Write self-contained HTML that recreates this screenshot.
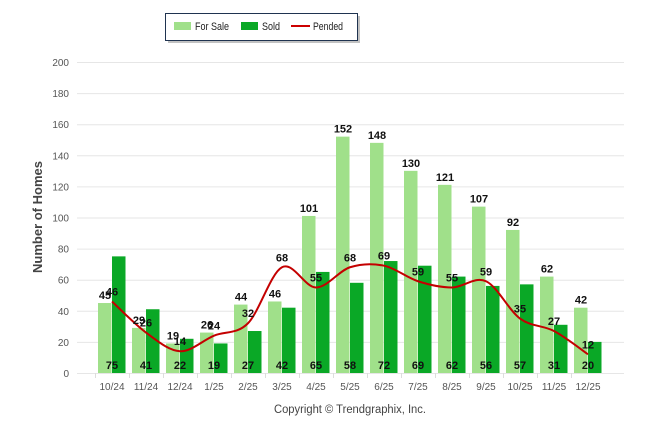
<!DOCTYPE html>
<html><head><meta charset="utf-8"><style>
body{margin:0;background:#fff;font-family:"Liberation Sans",sans-serif}
svg text{font-family:"Liberation Sans",sans-serif}
</style></head><body>
<svg width="646" height="434" xmlns="http://www.w3.org/2000/svg">
<g>
<rect x="168" y="16" width="192" height="27" fill="#9a9a9a" opacity="0.6"/>
<rect x="165.5" y="13.5" width="192" height="27" fill="#fff" stroke="#1f3350" stroke-width="1"/>
<rect x="174" y="22" width="17" height="8" fill="#a0e08a"/>
<text x="195" y="30" font-size="11" textLength="34" lengthAdjust="spacingAndGlyphs" fill="#222">For Sale</text>
<rect x="241" y="22" width="17" height="8" fill="#0aa826"/>
<text x="262" y="30" font-size="11" textLength="18" lengthAdjust="spacingAndGlyphs" fill="#222">Sold</text>
<line x1="291" y1="26" x2="310" y2="26" stroke="#cc0000" stroke-width="2"/>
<text x="313" y="30" font-size="11" textLength="30" lengthAdjust="spacingAndGlyphs" fill="#222">Pended</text>
</g>
<g id="grid"></g>
<g id="bars"></g>
<g id="line"></g>
<g id="labels"></g>
<text transform="translate(42,217) rotate(-90)" text-anchor="middle" font-size="13" font-weight="bold" fill="#444">Number of Homes</text>
<text x="274" y="413" font-size="11.5" textLength="152" lengthAdjust="spacingAndGlyphs" fill="#444">Copyright © Trendgraphix, Inc.</text>
</svg>
<script>
const categories=["10/24","11/24","12/24","1/25","2/25","3/25","4/25","5/25","6/25","7/25","8/25","9/25","10/25","11/25","12/25"];
const forSale=[45,29,19,26,44,46,101,152,148,130,121,107,92,62,42];
const sold=[75,41,22,19,27,42,65,58,72,69,62,56,57,31,20];
const pended=[46,26,14,24,32,68,55,68,69,59,55,59,35,27,12];
const yTicks=[0,20,40,60,80,100,120,140,160,180,200];
const NS="http://www.w3.org/2000/svg";
const y=v=>373-v*311/200;
const xc=i=>112+34*i;
function mk(tag,attrs,parent,text){const e=document.createElementNS(NS,tag);for(const k in attrs)e.setAttribute(k,attrs[k]);if(text!==undefined)e.textContent=text;parent.appendChild(e);return e;}
const grid=document.getElementById('grid'),bars=document.getElementById('bars'),lineG=document.getElementById('line'),labels=document.getElementById('labels');
yTicks.forEach(t=>{
 const l=mk('line',{x1:77,x2:624,y1:y(t)+0.5,y2:y(t)+0.5,stroke:'#e6e6e6','stroke-width':1},grid);
 
 
 const tx=mk('text',{x:69,y:y(t)+4,'text-anchor':'end','font-size':10,fill:'#555'},grid,t);
 
 
});
categories.forEach((c,i)=>{
 const t=mk('text',{x:xc(i),y:390,'text-anchor':'middle','font-size':10,fill:'#555'},grid,c);
 
 
 const tk=mk('line',{x1:xc(i)-17+0.5,x2:xc(i)-17+0.5,y1:373,y2:378,stroke:'#ddd'},grid);
 
 
 const b1=mk('rect',{x:xc(i)-14,y:y(forSale[i]),width:13.5,height:373-y(forSale[i]),fill:'#a0e08a'},bars);
 
 
 const b2=mk('rect',{x:xc(i),y:y(sold[i]),width:13.5,height:373-y(sold[i]),fill:'#0aa826'},bars);
 
 
});
const pts=pended.map((v,i)=>[xc(i),y(v)]);
let d=`M${pts[0][0]},${pts[0][1]}`;
for(let i=0;i<pts.length-1;i++){const p0=pts[i-1]||pts[i],p1=pts[i],p2=pts[i+1],p3=pts[i+2]||p2;
 d+=` C${p1[0]+(p2[0]-p0[0])/6},${p1[1]+(p2[1]-p0[1])/6} ${p2[0]-(p3[0]-p1[0])/6},${p2[1]-(p3[1]-p1[1])/6} ${p2[0]},${p2[1]}`;}
const pl=mk('path',{d:d,fill:'none',stroke:'#c40000','stroke-width':2},lineG);


categories.forEach((c,i)=>{
 const a=mk('text',{x:xc(i)-7,y:y(forSale[i])-4,'text-anchor':'middle','font-size':11,'font-weight':'bold',fill:'#111'},labels,forSale[i]);
 
 
 const b=mk('text',{x:xc(i),y:369,'text-anchor':'middle','font-size':11,'font-weight':'bold',fill:'#111'},labels,sold[i]);
 
 
 const p=mk('text',{x:xc(i),y:y(pended[i])-6,'text-anchor':'middle','font-size':11,'font-weight':'bold',fill:'#111'},labels,pended[i]);
 
 
});
</script>
</body></html>
